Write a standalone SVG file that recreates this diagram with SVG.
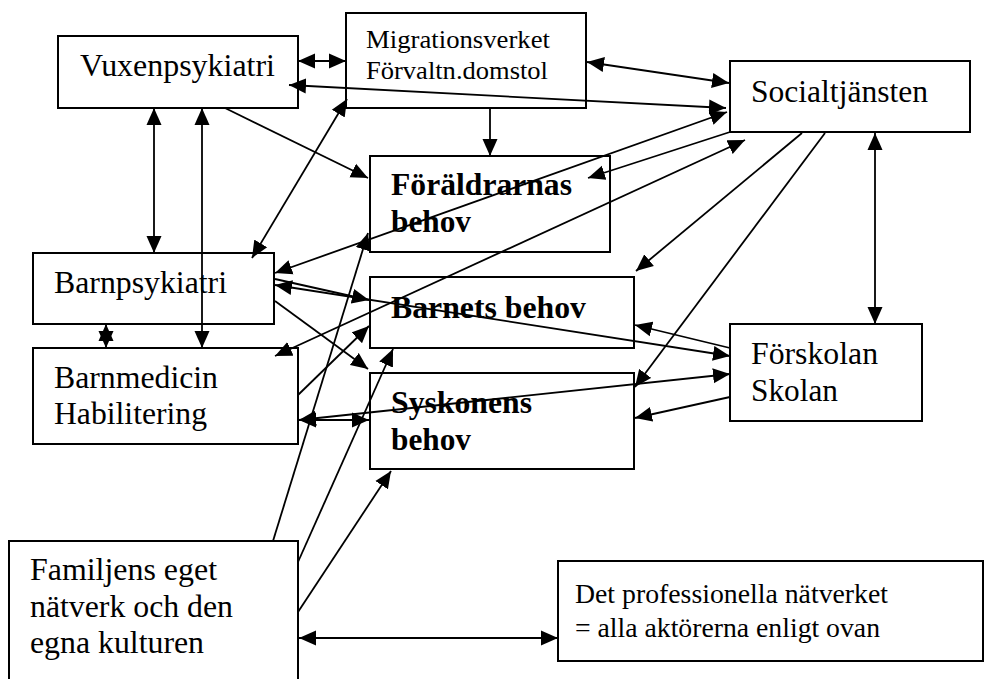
<svg xmlns="http://www.w3.org/2000/svg" width="984" height="679" viewBox="0 0 984 679">
<style>
.box{fill:#fff;stroke:#000;stroke-width:2}
.s{font-size:25px}
.m{font-size:28px}
.b{font-weight:bold}
.c line{stroke:#000;stroke-width:1.8;fill:none}
.e{marker-end:url(#ah)}
.d{marker-start:url(#ah);marker-end:url(#ah)}
</style>
<defs>
<marker id="ah" markerUnits="userSpaceOnUse" markerWidth="18" markerHeight="16" refX="17" refY="8" orient="auto-start-reverse">
<path d="M0,0.5 L17,8 L0,15.5 z" fill="#000"/>
</marker>
</defs>
<rect width="984" height="679" fill="#fff"/>
<g font-family="Liberation Serif, Times New Roman, serif" font-size="31" fill="#000">
<g id="vuxen"><rect class="box" x="58" y="36" width="240" height="72"/><text x="80" y="76" textLength="195" lengthAdjust="spacingAndGlyphs">Vuxenpsykiatri</text></g>
<g id="migration"><rect class="box" x="346" y="13" width="240" height="95"/><text class="s" x="366" y="48" textLength="184" lengthAdjust="spacingAndGlyphs">Migrationsverket</text><text class="s" x="366" y="79" textLength="182" lengthAdjust="spacingAndGlyphs">Förvaltn.domstol</text></g>
<g id="social"><rect class="box" x="730" y="61" width="240" height="71"/><text x="751" y="102" textLength="177" lengthAdjust="spacingAndGlyphs">Socialtjänsten</text></g>
<g id="foraldrar"><rect class="box" x="370" y="156" width="240" height="96"/><text class="b" x="391" y="195" textLength="181" lengthAdjust="spacingAndGlyphs">Föräldrarnas</text><text class="b" x="391" y="232" textLength="80" lengthAdjust="spacingAndGlyphs">behov</text></g>
<g id="barnets"><rect class="box" x="370" y="277" width="264" height="71"/><text class="b" x="391" y="318" textLength="195" lengthAdjust="spacingAndGlyphs">Barnets behov</text></g>
<g id="syskonens"><rect class="box" x="370" y="373" width="264" height="96"/><text class="b" x="391" y="413" textLength="141" lengthAdjust="spacingAndGlyphs">Syskonens</text><text class="b" x="391" y="450" textLength="80" lengthAdjust="spacingAndGlyphs">behov</text></g>
<g id="barnpsykiatri"><rect class="box" x="33" y="253" width="241" height="71"/><text x="54" y="293" textLength="173" lengthAdjust="spacingAndGlyphs">Barnpsykiatri</text></g>
<g id="barnmedicin"><rect class="box" x="33" y="348" width="265" height="96"/><text x="54" y="388" textLength="164" lengthAdjust="spacingAndGlyphs">Barnmedicin</text><text x="54" y="424" textLength="153" lengthAdjust="spacingAndGlyphs">Habilitering</text></g>
<g id="forskolan"><rect class="box" x="730" y="324" width="192" height="97"/><text x="751" y="364" textLength="127" lengthAdjust="spacingAndGlyphs">Förskolan</text><text x="751" y="401" textLength="87" lengthAdjust="spacingAndGlyphs">Skolan</text></g>
<g id="familjen"><rect class="box" x="9" y="541" width="289" height="150"/><text x="30" y="580" textLength="187" lengthAdjust="spacingAndGlyphs">Familjens eget</text><text x="30" y="617" textLength="203" lengthAdjust="spacingAndGlyphs">nätverk och den</text><text x="30" y="653" textLength="174" lengthAdjust="spacingAndGlyphs">egna kulturen</text></g>
<g id="professionella"><rect class="box" x="558" y="561" width="425" height="100"/><text class="m" x="575" y="603" textLength="313" lengthAdjust="spacingAndGlyphs">Det professionella nätverket</text><text class="m" x="575" y="637" textLength="305" lengthAdjust="spacingAndGlyphs">= alla aktörerna enligt ovan</text></g>
</g>
<g id="connectors" class="c">
<line class="d" x1="298" y1="61" x2="346" y2="61"/>
<line class="d" x1="289" y1="85" x2="726" y2="108"/>
<line class="d" x1="587" y1="62" x2="729" y2="83"/>
<line class="e" x1="490" y1="108" x2="490" y2="156"/>
<line class="d" x1="347" y1="99" x2="252" y2="258"/>
<line class="e" x1="225" y1="108" x2="368" y2="178"/>
<line class="d" x1="154" y1="108" x2="154" y2="253"/>
<line class="d" x1="202" y1="108" x2="202" y2="348"/>
<line class="d" x1="106" y1="324" x2="106" y2="348"/>
<line class="d" x1="275" y1="273" x2="727" y2="112"/>
<line class="e" x1="730" y1="132" x2="588" y2="178"/>
<line class="d" x1="275" y1="356" x2="745" y2="140"/>
<line class="e" x1="802" y1="133" x2="636" y2="271"/>
<line class="e" x1="825" y1="133" x2="635" y2="387"/>
<line class="d" x1="875" y1="133" x2="875" y2="324"/>
<line class="e" x1="730" y1="348" x2="635" y2="325"/>
<line class="d" x1="275" y1="285" x2="730" y2="356"/>
<line class="d" x1="299" y1="420" x2="730" y2="374"/>
<line class="e" x1="730" y1="397" x2="635" y2="418"/>
<line class="e" x1="275" y1="279" x2="369" y2="300"/>
<line class="e" x1="275" y1="301" x2="368" y2="369"/>
<line class="e" x1="298" y1="395" x2="369" y2="326"/>
<line class="d" x1="299" y1="420" x2="369" y2="420"/>
<line class="e" x1="273" y1="541" x2="368" y2="233"/>
<line class="e" x1="298" y1="562" x2="393" y2="349"/>
<line class="e" x1="298" y1="612" x2="391" y2="471"/>
<line class="d" x1="299" y1="638" x2="558" y2="638"/>
</g>
</svg>
